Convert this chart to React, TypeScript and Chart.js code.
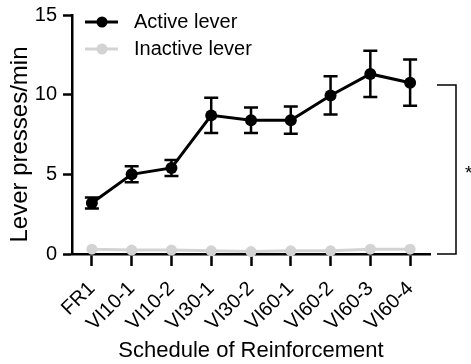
import React, { useEffect, useRef } from "react";
import { Chart, registerables } from "chart.js";

Chart.register(...registerables);

// Reinforcement schedules, in session order
const schedules = ["FR1", "VI10-1", "VI10-2", "VI30-1", "VI30-2", "VI60-1", "VI60-2", "VI60-3", "VI60-4"];
// Mean lever presses per minute
const activeMean = [3.2, 5.0, 5.4, 8.7, 8.4, 8.4, 9.95, 11.3, 10.75];
const activeSem = [0.35, 0.5, 0.5, 1.1, 0.8, 0.85, 1.2, 1.45, 1.45];
const inactiveMean = [0.3, 0.25, 0.25, 0.2, 0.15, 0.2, 0.2, 0.3, 0.3];
// Y-axis ticks
const yTicks = [0, 5, 10, 15];
// Significance bracket span (lever presses/min) and its mark
const bracketSpan = [0, 10.6];
const bracketMark = "*";

const FONT = "'Liberation Sans', Arial, Helvetica, sans-serif";
const BLACK = "#000000";
const GREY = "#d3d3d3";

const seriesLegend = [
  { label: "Active lever", color: BLACK },
  { label: "Inactive lever", color: GREY },
];

const overlayPlugin = {
  id: "overlay",
  beforeDatasetsDraw(chart: any) {
    // SEM error bars for the active lever
    const { ctx, scales } = chart;
    const x = scales.x;
    const y = scales.y;
    ctx.save();
    ctx.strokeStyle = BLACK;
    ctx.lineWidth = 2.5;
    activeMean.forEach((m, i) => {
      const px = x.getPixelForValue(i);
      const top = y.getPixelForValue(m + activeSem[i]);
      const bot = y.getPixelForValue(m - activeSem[i]);
      ctx.beginPath();
      ctx.moveTo(px, top);
      ctx.lineTo(px, bot);
      ctx.moveTo(px - 7, top);
      ctx.lineTo(px + 7, top);
      ctx.moveTo(px - 7, bot);
      ctx.lineTo(px + 7, bot);
      ctx.stroke();
    });
    ctx.restore();
  },
  afterDraw(chart: any) {
    const { ctx, chartArea, scales } = chart;
    const y = scales.y;
    ctx.save();

    // Legend
    seriesLegend.forEach((s, i) => {
      const cy = chartArea.top + 7 + i * 27;
      const lx = chartArea.left + 13;
      ctx.strokeStyle = s.color;
      ctx.lineWidth = 3;
      ctx.beginPath();
      ctx.moveTo(lx, cy);
      ctx.lineTo(lx + 33, cy);
      ctx.stroke();
      ctx.fillStyle = s.color;
      ctx.beginPath();
      ctx.arc(lx + 17, cy, 5.5, 0, Math.PI * 2);
      ctx.fill();
      ctx.fillStyle = BLACK;
      ctx.font = `20px ${FONT}`;
      ctx.textAlign = "left";
      ctx.textBaseline = "middle";
      ctx.fillText(s.label, lx + 49, cy);
    });

    // Y-axis title
    ctx.save();
    ctx.translate(20, (chartArea.top + chartArea.bottom) / 2 + 10);
    ctx.rotate(-Math.PI / 2);
    ctx.font = `24px ${FONT}`;
    ctx.fillStyle = BLACK;
    ctx.textAlign = "center";
    ctx.textBaseline = "middle";
    ctx.fillText("Lever presses/min", 0, 0);
    ctx.restore();

    // Significance bracket
    const bx0 = chartArea.right + 7;
    const bx1 = chartArea.right + 26;
    const by0 = y.getPixelForValue(bracketSpan[1]);
    const by1 = y.getPixelForValue(bracketSpan[0]);
    ctx.strokeStyle = BLACK;
    ctx.lineWidth = 1.5;
    ctx.beginPath();
    ctx.moveTo(bx0, by0);
    ctx.lineTo(bx1, by0);
    ctx.lineTo(bx1, by1);
    ctx.lineTo(bx0, by1);
    ctx.stroke();
    ctx.fillStyle = BLACK;
    ctx.font = `19px ${FONT}`;
    ctx.textAlign = "left";
    ctx.textBaseline = "alphabetic";
    ctx.fillText(bracketMark, bx1 + 9, (by0 + by1) / 2 + 9);

    ctx.restore();
  },
};

export default function App() {
  const canvasRef = useRef<HTMLCanvasElement | null>(null);

  useEffect(() => {
    const canvas = canvasRef.current;
    if (!canvas) return;
    const chart = new Chart(canvas, {
      type: "line",
      data: {
        labels: schedules,
        datasets: [
          {
            label: "Inactive lever",
            data: inactiveMean,
            borderColor: GREY,
            backgroundColor: GREY,
            borderWidth: 3,
            pointRadius: 5.5,
            pointHoverRadius: 5.5,
            pointBorderWidth: 0,
            clip: false,
          } as any,
          {
            label: "Active lever",
            data: activeMean,
            borderColor: BLACK,
            backgroundColor: BLACK,
            borderWidth: 3,
            pointRadius: 6,
            pointHoverRadius: 6,
            pointBorderWidth: 0,
            clip: false,
          } as any,
        ],
      },
      options: {
        responsive: false,
        animation: false,
        events: [],
        layout: { padding: { top: 15, right: 41, left: 0, bottom: 0 } },
        plugins: {
          legend: { display: false },
          tooltip: { enabled: false },
          title: { display: false },
        },
        scales: {
          x: {
            type: "category",
            offset: true,
            grid: {
              display: true,
              offset: false,
              drawOnChartArea: false,
              drawTicks: true,
              tickLength: 12,
              tickWidth: 2.5,
              tickColor: BLACK,
            },
            border: { display: true, color: BLACK, width: 2.5 },
            ticks: {
              color: BLACK,
              font: { family: FONT, size: 20 },
              maxRotation: 45,
              minRotation: 45,
              padding: 11,
              autoSkip: false,
            },
            title: {
              display: true,
              text: "Schedule of Reinforcement",
              color: BLACK,
              font: { family: FONT, size: 22 },
              padding: { top: 0, bottom: 0 },
            },
            afterFit(scale: any) {
              scale.height = 110;
              scale.paddingLeft = 0;
              scale.paddingRight = 0;
            },
          },
          y: {
            min: yTicks[0],
            max: yTicks[yTicks.length - 1],
            afterBuildTicks(scale: any) {
              scale.ticks = yTicks.map((v) => ({ value: v }));
            },
            grid: {
              display: true,
              drawOnChartArea: false,
              drawTicks: true,
              tickLength: 9,
              tickWidth: 2.5,
              tickColor: BLACK,
            },
            border: { display: true, color: BLACK, width: 2.5 },
            ticks: {
              color: BLACK,
              font: { family: FONT, size: 20 },
              padding: 6,
            },
            afterFit(scale: any) {
              scale.width = 72;
              scale.paddingTop = 0;
              scale.paddingBottom = 0;
            },
          },
        },
      },
      plugins: [overlayPlugin],
    });
    return () => chart.destroy();
  }, []);

  return (
    <div style={{ position: "fixed", left: 0, top: 0, width: 471, height: 364, background: "#fff" }}>
      <canvas ref={canvasRef} width={471} height={364} style={{ display: "block" }} />
    </div>
  );
}
